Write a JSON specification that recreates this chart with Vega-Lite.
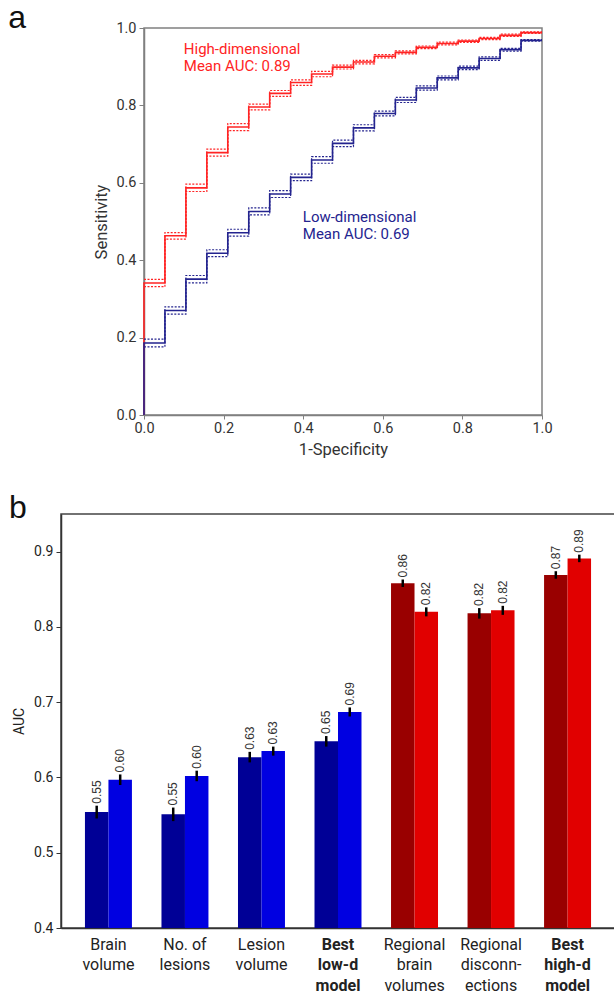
{
  "$schema": "https://vega.github.io/schema/vega-lite/v6.json",
  "background": "white",
  "padding": {"left": 8, "top": 2, "right": 0, "bottom": 0},
  "autosize": {"type": "pad"},
  "spacing": 32,
  "title": {"text": "a", "anchor": "start", "frame": "bounds", "orient": "top", "offset": -41, "baseline": "alphabetic", "font": "Liberation Sans", "fontSize": 32, "fontWeight": "normal", "color": "#111"},
  "resolve": {"scale": {"color": "independent", "x": "independent", "y": "independent"}},
  "config": {"font": "Roboto", "view": {"stroke": "#808080"}},
  "datasets": {
    "roc": [
      {"series": "High", "i": 0, "x": 0, "y": 0, "lo": null, "hi": null},
      {"series": "High", "i": 1, "x": 0, "y": 0.341, "lo": 0.3315, "hi": 0.3505},
      {"series": "High", "i": 2, "x": 0.0526, "y": 0.463, "lo": 0.4545, "hi": 0.4715},
      {"series": "High", "i": 3, "x": 0.1053, "y": 0.587, "lo": 0.5775, "hi": 0.5965},
      {"series": "High", "i": 4, "x": 0.1579, "y": 0.678, "lo": 0.669, "hi": 0.687},
      {"series": "High", "i": 5, "x": 0.2105, "y": 0.744, "lo": 0.735, "hi": 0.753},
      {"series": "High", "i": 6, "x": 0.2632, "y": 0.796, "lo": 0.7885, "hi": 0.8035},
      {"series": "High", "i": 7, "x": 0.3158, "y": 0.831, "lo": 0.8235, "hi": 0.8385},
      {"series": "High", "i": 8, "x": 0.3684, "y": 0.859, "lo": 0.852, "hi": 0.866},
      {"series": "High", "i": 9, "x": 0.4211, "y": 0.881, "lo": 0.874, "hi": 0.888},
      {"series": "High", "i": 10, "x": 0.4737, "y": 0.899, "lo": 0.894, "hi": 0.904},
      {"series": "High", "i": 11, "x": 0.5263, "y": 0.912, "lo": 0.9075, "hi": 0.9165},
      {"series": "High", "i": 12, "x": 0.5789, "y": 0.927, "lo": 0.923, "hi": 0.931},
      {"series": "High", "i": 13, "x": 0.6316, "y": 0.937, "lo": 0.933, "hi": 0.941},
      {"series": "High", "i": 14, "x": 0.6842, "y": 0.95, "lo": 0.9465, "hi": 0.9535},
      {"series": "High", "i": 15, "x": 0.7368, "y": 0.96, "lo": 0.9565, "hi": 0.9635},
      {"series": "High", "i": 16, "x": 0.7895, "y": 0.966, "lo": 0.963, "hi": 0.969},
      {"series": "High", "i": 17, "x": 0.8421, "y": 0.973, "lo": 0.97, "hi": 0.976},
      {"series": "High", "i": 18, "x": 0.8947, "y": 0.981, "lo": 0.978, "hi": 0.984},
      {"series": "High", "i": 19, "x": 0.9474, "y": 0.988, "lo": 0.986, "hi": 0.99},
      {"series": "High", "i": 20, "x": 1.0, "y": 0.988, "lo": 0.986, "hi": 0.99},
      {"series": "Low", "i": 0, "x": 0, "y": 0, "lo": null, "hi": null},
      {"series": "Low", "i": 1, "x": 0, "y": 0.186, "lo": 0.176, "hi": 0.196},
      {"series": "Low", "i": 2, "x": 0.0526, "y": 0.27, "lo": 0.2605, "hi": 0.2795},
      {"series": "Low", "i": 3, "x": 0.1053, "y": 0.351, "lo": 0.3415, "hi": 0.3605},
      {"series": "Low", "i": 4, "x": 0.1579, "y": 0.418, "lo": 0.409, "hi": 0.427},
      {"series": "Low", "i": 5, "x": 0.2105, "y": 0.471, "lo": 0.462, "hi": 0.48},
      {"series": "Low", "i": 6, "x": 0.2632, "y": 0.526, "lo": 0.517, "hi": 0.535},
      {"series": "Low", "i": 7, "x": 0.3158, "y": 0.571, "lo": 0.562, "hi": 0.58},
      {"series": "Low", "i": 8, "x": 0.3684, "y": 0.614, "lo": 0.6055, "hi": 0.6225},
      {"series": "Low", "i": 9, "x": 0.4211, "y": 0.659, "lo": 0.6505, "hi": 0.6675},
      {"series": "Low", "i": 10, "x": 0.4737, "y": 0.702, "lo": 0.6935, "hi": 0.7105},
      {"series": "Low", "i": 11, "x": 0.5263, "y": 0.742, "lo": 0.734, "hi": 0.75},
      {"series": "Low", "i": 12, "x": 0.5789, "y": 0.779, "lo": 0.773, "hi": 0.785},
      {"series": "Low", "i": 13, "x": 0.6316, "y": 0.814, "lo": 0.8075, "hi": 0.8205},
      {"series": "Low", "i": 14, "x": 0.6842, "y": 0.845, "lo": 0.8395, "hi": 0.8505},
      {"series": "Low", "i": 15, "x": 0.7368, "y": 0.871, "lo": 0.866, "hi": 0.876},
      {"series": "Low", "i": 16, "x": 0.7895, "y": 0.897, "lo": 0.8925, "hi": 0.9015},
      {"series": "Low", "i": 17, "x": 0.8421, "y": 0.921, "lo": 0.9165, "hi": 0.9255},
      {"series": "Low", "i": 18, "x": 0.8947, "y": 0.944, "lo": 0.9405, "hi": 0.9475},
      {"series": "Low", "i": 19, "x": 0.9474, "y": 0.968, "lo": 0.966, "hi": 0.97},
      {"series": "Low", "i": 20, "x": 1.0, "y": 0.968, "lo": 0.966, "hi": 0.97}
    ],
    "ann": [
      {"series": "High", "x": 0.1, "y": 0.934, "text": "High-dimensional"},
      {"series": "High", "x": 0.1, "y": 0.888, "text": "Mean AUC: 0.89"},
      {"series": "Low", "x": 0.399, "y": 0.5, "text": "Low-dimensional"},
      {"series": "Low", "x": 0.399, "y": 0.454, "text": "Mean AUC: 0.69"}
    ],
    "bars": [
      {"group": "Brain\nvolume", "bar": "1", "kind": "low1", "auc": 0.554, "lo": 0.5455, "hi": 0.5625, "lbl": "0.55"},
      {"group": "Brain\nvolume", "bar": "2", "kind": "low2", "auc": 0.597, "lo": 0.59, "hi": 0.604, "lbl": "0.60"},
      {"group": "No. of\nlesions", "bar": "1", "kind": "low1", "auc": 0.551, "lo": 0.542, "hi": 0.56, "lbl": "0.55"},
      {"group": "No. of\nlesions", "bar": "2", "kind": "low2", "auc": 0.602, "lo": 0.595, "hi": 0.609, "lbl": "0.60"},
      {"group": "Lesion\nvolume", "bar": "1", "kind": "low1", "auc": 0.627, "lo": 0.62, "hi": 0.634, "lbl": "0.63"},
      {"group": "Lesion\nvolume", "bar": "2", "kind": "low2", "auc": 0.635, "lo": 0.629, "hi": 0.641, "lbl": "0.63"},
      {"group": "Best\nlow-d\nmodel", "bar": "1", "kind": "low1", "auc": 0.648, "lo": 0.641, "hi": 0.655, "lbl": "0.65"},
      {"group": "Best\nlow-d\nmodel", "bar": "2", "kind": "low2", "auc": 0.687, "lo": 0.681, "hi": 0.693, "lbl": "0.69"},
      {"group": "Regional\nbrain\nvolumes", "bar": "1", "kind": "high1", "auc": 0.858, "lo": 0.853, "hi": 0.863, "lbl": "0.86"},
      {"group": "Regional\nbrain\nvolumes", "bar": "2", "kind": "high2", "auc": 0.82, "lo": 0.814, "hi": 0.826, "lbl": "0.82"},
      {"group": "Regional\ndisconn-\nections", "bar": "1", "kind": "high1", "auc": 0.818, "lo": 0.811, "hi": 0.825, "lbl": "0.82"},
      {"group": "Regional\ndisconn-\nections", "bar": "2", "kind": "high2", "auc": 0.822, "lo": 0.816, "hi": 0.828, "lbl": "0.82"},
      {"group": "Best\nhigh-d\nmodel", "bar": "1", "kind": "high1", "auc": 0.869, "lo": 0.864, "hi": 0.874, "lbl": "0.87"},
      {"group": "Best\nhigh-d\nmodel", "bar": "2", "kind": "high2", "auc": 0.891, "lo": 0.886, "hi": 0.896, "lbl": "0.89"}
    ]
  },
  "vconcat": [
    {
      "spacing": 10,
      "hconcat": [
        {
          "width": 12,
          "height": 10,
          "view": {"stroke": null},
          "data": {"values": []},
          "mark": {"type": "point", "opacity": 0},
          "encoding": {}
        },
        {
          "width": 398,
          "height": 387,
          "view": {"stroke": "#808080", "strokeWidth": 1.5},
          "encoding": {
            "x": {"field": "x", "type": "quantitative", "scale": {"domain": [0, 1], "nice": false},
              "axis": {"values": [0, 0.2, 0.4, 0.6, 0.8, 1], "format": ".1f", "title": "1-Specificity", "grid": false, "labelFlush": false, "tickSize": 4, "tickColor": "#808080", "domainColor": "#808080", "domainWidth": 1.5, "labelFontSize": 14.5, "labelPadding": 2, "labelColor": "#333", "titleFontSize": 16.5, "titleFontWeight": "normal", "titleColor": "#333", "titlePadding": 7}}
          },
          "layer": [
            {
              "data": {"name": "roc"},
              "mark": {"type": "line", "interpolate": "step-after", "strokeWidth": 1.6},
              "encoding": {
                "y": {"field": "y", "type": "quantitative", "scale": {"domain": [0, 1], "nice": false},
                  "axis": {"values": [0, 0.2, 0.4, 0.6, 0.8, 1], "format": ".1f", "title": "Sensitivity", "grid": false, "tickSize": 5, "tickColor": "#808080", "domainColor": "#808080", "domainWidth": 1.5, "labelFontSize": 14.5, "labelPadding": 3, "labelColor": "#333", "titleFontSize": 16.5, "titleFontWeight": "normal", "titleColor": "#333", "minExtent": 60, "maxExtent": 60, "titleX": -43, "titleBaseline": "middle"}},
                "color": {"field": "series", "type": "nominal", "scale": {"domain": ["High", "Low"], "range": ["#ff2424", "#24248f"]}, "legend": null},
                "order": {"field": "i", "type": "quantitative"}
              }
            },
            {
              "data": {"name": "roc"},
              "mark": {"type": "line", "interpolate": "step-after", "strokeWidth": 1.2, "strokeDash": [2, 1.5]},
              "encoding": {
                "y": {"field": "lo", "type": "quantitative", "title": "Sensitivity"},
                "color": {"field": "series", "type": "nominal", "legend": null},
                "order": {"field": "i", "type": "quantitative"}
              }
            },
            {
              "data": {"name": "roc"},
              "mark": {"type": "line", "interpolate": "step-after", "strokeWidth": 1.2, "strokeDash": [2, 1.5]},
              "encoding": {
                "y": {"field": "hi", "type": "quantitative", "title": "Sensitivity"},
                "color": {"field": "series", "type": "nominal", "legend": null},
                "order": {"field": "i", "type": "quantitative"}
              }
            },
            {
              "data": {"name": "ann"},
              "mark": {"type": "text", "align": "left", "baseline": "alphabetic", "fontSize": 15, "font": "Roboto"},
              "encoding": {
                "y": {"field": "y", "type": "quantitative", "title": "Sensitivity"},
                "text": {"field": "text"},
                "color": {"field": "series", "type": "nominal", "legend": null}
              }
            }
          ]
        }
      ]
    },
    {
      "width": 554,
      "height": 414,
      "view": {"stroke": "#444", "strokeWidth": 1.5},
      "title": {"text": "b", "anchor": "start", "frame": "group", "orient": "top", "offset": -36, "dx": -52, "baseline": "alphabetic", "font": "Liberation Sans", "fontSize": 32, "fontWeight": "normal", "color": "#111"},
      "data": {"name": "bars"},
      "encoding": {
        "x": {"field": "group", "type": "nominal", "sort": null, "scale": {"paddingInner": 0.386, "paddingOuter": 0.313},
          "axis": {"title": null, "labelExpr": "split(datum.label, '\\n')", "labelAngle": 0, "ticks": false, "labelFontSize": 16, "labelLineHeight": 20.5, "labelPadding": 8, "labelBaseline": "top", "labelColor": "#222",
            "labelFontWeight": {"condition": {"test": "indexof(datum.value, 'Best') == 0", "value": "bold"}, "value": "normal"},
            "domainColor": "#333", "domainWidth": 1.5}},
        "xOffset": {"field": "bar", "type": "nominal"}
      },
      "layer": [
        {
          "mark": {"type": "bar"},
          "encoding": {
            "y": {"field": "auc", "type": "quantitative", "scale": {"domain": [0.4, 0.95], "nice": false, "zero": false},
              "axis": {"values": [0.4, 0.5, 0.6, 0.7, 0.8, 0.9], "format": ".1f", "title": "AUC", "grid": false, "tickSize": 5, "tickColor": "#333", "domainColor": "#333", "domainWidth": 1.5, "labelFontSize": 14, "labelPadding": 3, "labelColor": "#222", "titleFontSize": 14, "titleFontWeight": "normal", "titleColor": "#222", "titlePadding": 7.5}},
            "y2": {"datum": 0.4},
            "color": {"field": "kind", "type": "nominal", "scale": {"domain": ["low1", "low2", "high1", "high2"], "range": ["#000096", "#0000e1", "#990000", "#e10000"]}, "legend": null}
          }
        },
        {
          "mark": {"type": "rule", "strokeWidth": 2.5, "color": "#000"},
          "encoding": {
            "y": {"field": "lo", "type": "quantitative", "title": "AUC"},
            "y2": {"field": "hi"}
          }
        },
        {
          "mark": {"type": "text", "angle": 270, "align": "left", "baseline": "middle", "dx": 2, "font": "Liberation Sans", "fontSize": 12, "color": "#333"},
          "encoding": {
            "y": {"field": "hi", "type": "quantitative", "title": "AUC"},
            "text": {"field": "lbl"}
          }
        }
      ]
    }
  ]
}
